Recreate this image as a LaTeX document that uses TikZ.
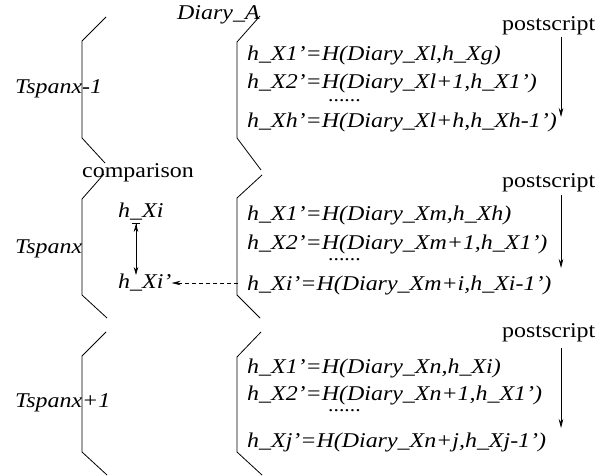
\documentclass[tikz,border=0pt]{standalone}
\usepackage{fontspec}
\setmainfont{Liberation Serif}[FakeStretch=1.14]
\usetikzlibrary{arrows.meta}
\begin{document}
\begin{tikzpicture}[x=1pt,y=-1pt,
  txt/.style={anchor=base west,inner sep=0pt,font=\fontsize{21}{24}\selectfont\itshape},
  rtxt/.style={anchor=base west,inner sep=0pt,font=\fontsize{21}{24}\selectfont},
  dots/.style={anchor=base west,inner sep=0pt,font=\fontsize{19}{20}\selectfont},
  brk/.style={line width=0.8pt},
  parrow/.style={line width=0.7pt,-{Stealth[length=9pt,width=4.5pt]}},
  darrow/.style={line width=0.7pt,dash pattern=on 4pt off 3pt,-{Stealth[length=9pt,width=4.5pt]}},
  cmparrow/.style={line width=0.7pt,{Bar[width=8pt,line width=0.9pt]Stealth[length=8pt,width=4.5pt]}-{Stealth[length=8pt,width=4.5pt]}}]
\useasboundingbox (0,0) rectangle (603,476);
% brackets left
\draw[brk] (106,17) -- (82,41) -- (82,138) -- (105,163);
\draw[brk] (104,174) -- (82,199) -- (82,295) -- (107,318);
\draw[brk] (106,332) -- (82,356) -- (82,452) -- (107,475);
% brackets right
\draw[brk] (260,16) -- (237,42) -- (237,138) -- (261,170);
\draw[brk] (262,175) -- (237,198) -- (237,295) -- (260,318);
\draw[brk] (261,332) -- (237,357) -- (237,452) -- (262,475);
% labels
\node[txt] (diary) at (177,20) {Diary\_A};
\node[txt] (t1) at (15,94) {Tspanx-1};
\node[txt] (t2) at (15,253) {Tspanx};
\node[txt] (t3) at (15,407) {Tspanx+1};
% block 1
\node[rtxt] (p1) at (502,31) {postscript};
\node[txt] (a1) at (247,61) {h\_X1'=H(Diary\_Xl,h\_Xg)};
\node[txt] (a2) at (247,89) {h\_X2'=H(Diary\_Xl+1,h\_X1')};
\node[dots] (ad) at (328,102) {......};
\node[txt] (a3) at (247,128) {h\_Xh'=H(Diary\_Xl+h,h\_Xh-1')};
\coordinate (p1s) at (561,37);
\coordinate (p1e) at (561,117);
\draw[parrow] (p1s) -- (p1e);
% block 2
\node[rtxt] (cmp) at (82,178) {comparison};
\node[rtxt] (p2) at (502,188) {postscript};
\node[txt] (hxi) at (118,218) {h\_Xi};
\node[txt] (hxip) at (118,288) {h\_Xi'};
\node[txt] (b1) at (247,221) {h\_X1'=H(Diary\_Xm,h\_Xh)};
\node[txt] (b2) at (247,250) {h\_X2'=H(Diary\_Xm+1,h\_X1')};
\node[dots] (bd) at (328,261) {......};
\node[txt] (b3) at (247,290) {h\_Xi'=H(Diary\_Xm+i,h\_Xi-1')};
\coordinate (p2s) at (561,195);
\coordinate (p2e) at (561,268);
\draw[parrow] (p2s) -- (p2e);
\coordinate (cs) at (136,223);
\coordinate (ce) at (136,275);
\draw[cmparrow] (cs) -- (ce);
\coordinate (ds) at (238,283);
\draw[darrow] (ds) -- (hxip.east |- ds);
% block 3
\node[rtxt] (p3) at (502,337) {postscript};
\node[txt] (c1) at (247,373) {h\_X1'=H(Diary\_Xn,h\_Xi)};
\node[txt] (c2) at (247,400) {h\_X2'=H(Diary\_Xn+1,h\_X1')};
\node[dots] (cd) at (328,411) {......};
\node[txt] (c3) at (247,447) {h\_Xj'=H(Diary\_Xn+j,h\_Xj-1')};
\coordinate (p3s) at (561,348);
\coordinate (p3e) at (561,428);
\draw[parrow] (p3s) -- (p3e);
\end{tikzpicture}
\end{document}
